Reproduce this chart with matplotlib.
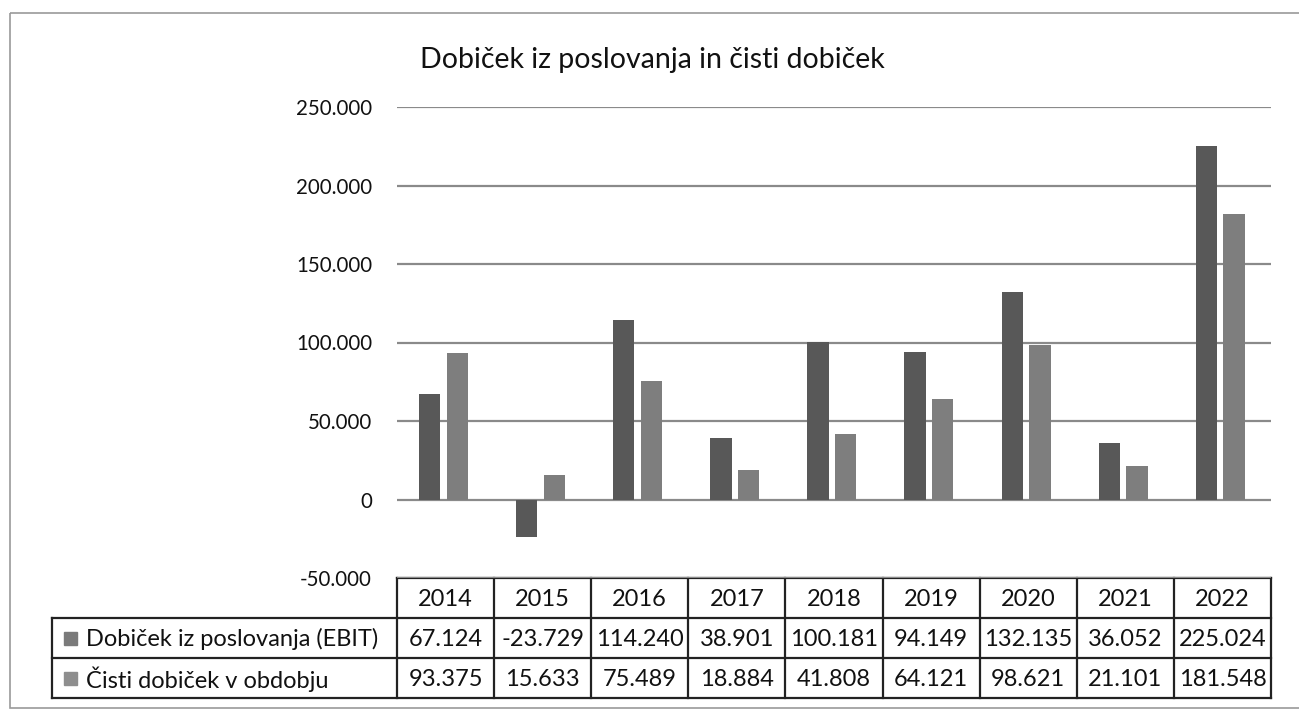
import numpy as np
import matplotlib
matplotlib.use("Agg")
import matplotlib.pyplot as plt
from matplotlib.patches import Rectangle
from matplotlib.ticker import FuncFormatter

plt.rcParams['font.family'] = ['Lato', 'DejaVu Sans']

# ---- data ----
years = ["2014", "2015", "2016", "2017", "2018", "2019", "2020", "2021", "2022"]
ebit = [67124, -23729, 114240, 38901, 100181, 94149, 132135, 36052, 225024]
net_profit = [93375, 15633, 75489, 18884, 41808, 64121, 98621, 21101, 181548]
series_names = ["Dobiček iz poslovanja (EBIT)", "Čisti dobiček v obdobju"]
title = "Dobiček iz poslovanja in čisti dobiček"
y_ticks = [-50000, 0, 50000, 100000, 150000, 200000, 250000]

c_ebit = "#585858"
c_net = "#7e7e7e"
txt = "#111111"

W, H = 1299, 712
fig = plt.figure(figsize=(W / 100, H / 100), dpi=100)

# overlay for frame / table in pixel coords
ov = fig.add_axes([0, 0, 1, 1])
ov.set_xlim(0, W)
ov.set_ylim(H, 0)
ov.axis("off")

# chart frame
ov.add_patch(Rectangle((10, 13), 1295, 695, fill=False, edgecolor="#9a9a9a", lw=1.2))

# main plot area
px_left, px_right, px_top, px_bottom = 397, 1271, 107, 578
ax = fig.add_axes([px_left / W, 1 - px_bottom / H, (px_right - px_left) / W, (px_bottom - px_top) / H])
x = np.arange(len(years))
ax.bar(x - 0.165, ebit, width=0.22, color=c_ebit, zorder=3)
ax.bar(x + 0.12, net_profit, width=0.22, color=c_net, zorder=3)
ax.set_xlim(-0.5, len(years) - 0.5)
ax.set_ylim(y_ticks[0], y_ticks[-1])
ax.set_yticks(y_ticks)
ax.yaxis.set_major_formatter(FuncFormatter(lambda v, p: f"{v:,.0f}".replace(",", ".")))
ax.tick_params(axis="y", length=0, pad=18, labelsize=14.8, labelcolor=txt)
ax.set_xticks([])
for s in ax.spines.values():
    s.set_visible(False)
ax.grid(axis="y", color="#8a8a8a", lw=1.6, zorder=0)
ax.patch.set_alpha(0)

fig.text(652 / W, 1 - 60 / H, title, ha="center", va="center", fontsize=20.5, color=txt)

# ---- data table ----
col_left = 52
col_edges = [col_left] + [px_left + i * (px_right - px_left) / len(years) for i in range(len(years) + 1)]
row_edges = [578, 618, 658, 698]
lc = "#222222"
lw = 1.6
ov.plot([px_left, px_right], [row_edges[0], row_edges[0]], color=lc, lw=lw)
for yv in row_edges[1:]:
    ov.plot([col_left, px_right], [yv, yv], color=lc, lw=lw)
ov.plot([col_left, col_left], [row_edges[1], row_edges[3]], color=lc, lw=lw)
for xv in col_edges[1:]:
    ov.plot([xv, xv], [row_edges[0], row_edges[3]], color=lc, lw=lw)

fs = 17
for i, yr in enumerate(years):
    cx = (col_edges[i + 1] + col_edges[i + 2]) / 2
    ov.text(cx, (row_edges[0] + row_edges[1]) / 2 + 1, yr, ha="center", va="center", fontsize=fs, color=txt)
    ov.text(cx, (row_edges[1] + row_edges[2]) / 2 + 1, f"{ebit[i]:,.0f}".replace(",", "."), ha="center", va="center", fontsize=fs, color=txt)
    ov.text(cx, (row_edges[2] + row_edges[3]) / 2 + 1, f"{net_profit[i]:,.0f}".replace(",", "."), ha="center", va="center", fontsize=fs, color=txt)

for r, (name, col) in enumerate(zip(series_names, [c_ebit, c_net])):
    cy = (row_edges[r + 1] + row_edges[r + 2]) / 2
    ov.add_patch(Rectangle((64, cy - 6), 13, 13, color="#7a7a7a" if r == 0 else "#8e8e8e"))
    ov.text(86, cy + 1, name, ha="left", va="center", fontsize=fs, color=txt)

fig.savefig("out.png", dpi=100)
